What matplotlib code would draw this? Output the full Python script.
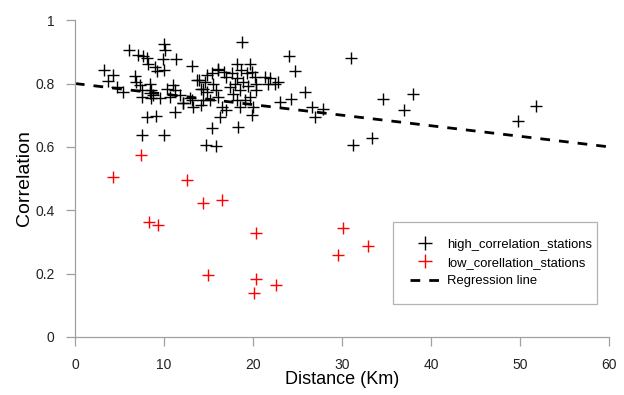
import numpy as np
import matplotlib
matplotlib.use("Agg")
import matplotlib.pyplot as plt

plt.rcParams['font.family'] = ['Liberation Sans', 'DejaVu Sans']
plt.rcParams['lines.scale_dashes'] = False

# high correlation stations (distance km, correlation)
high_x = [3.3, 4.3, 3.7, 4.7, 5.4, 6.1, 7.1, 7.7, 8.1, 8.2,
          10.0, 10.1, 9.9, 11.4, 13.1, 6.7, 6.9, 7.3, 8.4, 7.5,
          8.4, 7.5, 8.6, 9.6, 9.0, 9.2, 10.0, 8.1, 9.1, 7.5,
          10.0, 11.2, 10.3, 11.0, 11.3, 10.7, 11.8, 12.2, 12.9, 13.3,
          14.2, 14.4, 13.9, 14.8, 14.6, 14.4, 14.8, 15.5, 15.9, 16.1,
          15.2, 16.5, 17.0, 15.4, 14.7, 15.8, 16.3, 16.1, 16.7, 17.0,
          17.6, 18.2, 18.8, 18.7, 19.7, 19.3, 19.9, 18.2, 20.2, 18.0,
          18.9, 17.4, 18.5, 19.5, 20.4, 20.4, 17.8, 19.7, 18.2, 19.1,
          18.5, 20.0, 19.9, 18.3, 21.3, 21.9, 22.5, 22.8, 21.7, 24.0,
          24.7, 25.8, 24.3, 23.0, 26.6, 27.0, 27.9, 31.0, 31.2, 33.4,
          34.6, 38.0, 37.0, 49.8, 51.8, 15.4, 16.1, 8.8, 8.6, 13.1,
          13.7, 12.2, 14.2]
high_y = [0.842, 0.826, 0.808, 0.788, 0.774, 0.905, 0.890, 0.886, 0.879, 0.863,
          0.926, 0.905, 0.876, 0.876, 0.856, 0.823, 0.805, 0.795, 0.800, 0.779,
          0.769, 0.758, 0.753, 0.753, 0.853, 0.840, 0.842, 0.695, 0.697, 0.637,
          0.637, 0.711, 0.784, 0.795, 0.779, 0.758, 0.763, 0.737, 0.753, 0.726,
          0.732, 0.748, 0.811, 0.826, 0.805, 0.784, 0.774, 0.800, 0.779, 0.758,
          0.748, 0.726, 0.716, 0.658, 0.606, 0.603, 0.695, 0.842, 0.837, 0.821,
          0.832, 0.863, 0.932, 0.842, 0.863, 0.832, 0.837, 0.816, 0.821, 0.800,
          0.805, 0.788, 0.781, 0.792, 0.800, 0.779, 0.767, 0.758, 0.748, 0.748,
          0.725, 0.725, 0.700, 0.663, 0.821, 0.816, 0.800, 0.805, 0.800, 0.888,
          0.839, 0.774, 0.751, 0.742, 0.727, 0.695, 0.721, 0.880, 0.606, 0.628,
          0.751, 0.767, 0.716, 0.681, 0.729, 0.832, 0.847, 0.763, 0.779, 0.748,
          0.811, 0.737, 0.784]

# low correlation stations
low_x = [4.3, 7.4, 12.6, 14.4, 16.5, 8.3, 9.3, 20.3, 30.1, 32.9,
         29.6, 14.9, 20.3, 22.6, 20.1]
low_y = [0.505, 0.575, 0.495, 0.423, 0.432, 0.363, 0.353, 0.328, 0.344, 0.287,
         0.259, 0.196, 0.183, 0.164, 0.139]

# regression line end points
reg_x = [0, 60]
reg_y = [0.80, 0.60]

fig = plt.figure(figsize=(6.24, 3.95), dpi=100)
ax = fig.add_axes([0.120, 0.147, 0.856, 0.802])

ax.plot(high_x, high_y, linestyle='none', marker='+', markersize=8,
        markeredgewidth=1.0, color='black', label='high_correlation_stations')
ax.plot(low_x, low_y, linestyle='none', marker='+', markersize=8,
        markeredgewidth=1.0, color='red', label='low_corellation_stations')
ax.plot(reg_x, reg_y, color='black', linewidth=2, linestyle=(0, (7, 6.5)),
        label='Regression line')

ax.set_xlim(0, 60)
ax.set_ylim(0, 1)
ax.set_xticks([0, 10, 20, 30, 40, 50, 60])
ax.set_yticks([0, 0.2, 0.4, 0.6, 0.8, 1])
ax.set_yticklabels(['0', '0.2', '0.4', '0.6', '0.8', '1'])

for side in ['top', 'right']:
    ax.spines[side].set_visible(False)
for side in ['left', 'bottom']:
    ax.spines[side].set_color('#a0a0a0')
    ax.spines[side].set_linewidth(0.9)
ax.tick_params(direction='out', length=6.5, width=0.9, color='#a0a0a0',
               labelsize=10, labelcolor='#222222', pad=8)
ax.tick_params(axis='x', pad=9)

ax.set_xlabel('Distance (Km)', fontsize=13, labelpad=-1)
ax.set_ylabel('Correlation', fontsize=14, labelpad=2)

# legend box spans the reference frame width
leg = ax.legend(loc='upper left', bbox_to_anchor=(0.596, 0.101, 0.382, 0.262),
                mode='expand', fontsize=9.4,
                frameon=True, fancybox=False, edgecolor='#a0a0a0',
                handlelength=2.2, borderpad=1.3, labelspacing=0.45,
                handletextpad=0.6, borderaxespad=0, markerscale=1.2)
leg.get_frame().set_linewidth(0.9)

plt.savefig('out.png', dpi=100)
